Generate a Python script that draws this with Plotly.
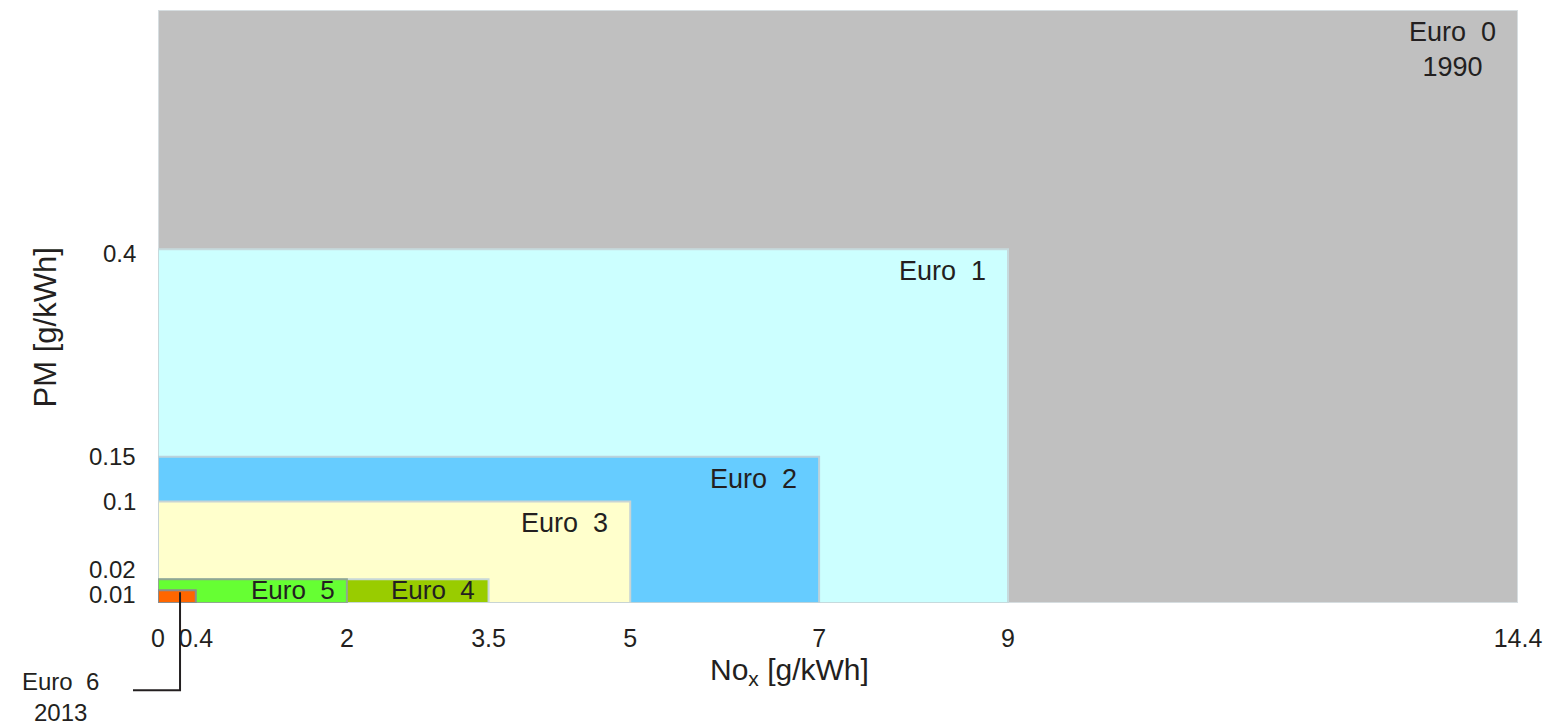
import plotly.graph_objects as go

# ---- data ----
stages = ["Euro  0", "Euro  1", "Euro  2", "Euro  3", "Euro  4", "Euro  5", "Euro  6"]
nox_limits = [14.4, 9.0, 7.0, 5.0, 3.5, 2.0, 0.4]      # g/kWh
pm_limits = [0.71, 0.4, 0.15, 0.1, 0.02, 0.02, 0.01]   # g/kWh
years = {"Euro  0": "1990", "Euro  6": "2013"}
fill_colors = ["#c0c0c0", "#ccffff", "#66ccff", "#ffffcc", "#99cc00", "#66ff33", "#ff6600"]
line_colors = ["#d6dde0", "#c6dadd", "#bcd3dc", "#c8d4d4", "#c8d8d8", "#8fa890", "#8c8c8c"]

x_ticks = [0, 0.4, 2, 3.5, 5, 7, 9, 14.4]
y_ticks = [0.01, 0.02, 0.1, 0.15, 0.4]

# schematic (compressed) PM scale: power transform
P = 0.9
def ty(v):
    return v ** P

FONT = "Arial, Liberation Sans, sans-serif"
TXT = "#231f20"

fig = go.Figure()

# invisible trace to establish axes
fig.add_trace(go.Scatter(x=[0, nox_limits[0]], y=[0, ty(pm_limits[0])], mode="markers",
                         marker=dict(opacity=0), hoverinfo="skip", showlegend=False))

for i, name in enumerate(stages):
    fig.add_shape(type="rect", xref="x", yref="y",
                  x0=0, x1=nox_limits[i], y0=0, y1=ty(pm_limits[i]),
                  fillcolor=fill_colors[i], line=dict(color=line_colors[i], width=2),
                  layer="below")

# stage labels inside boxes (top-right)
for i in range(4):
    txt = stages[i] + ("<br>" + years[stages[i]] if stages[i] in years else "")
    fig.add_annotation(x=nox_limits[i], y=ty(pm_limits[i]), xref="x", yref="y",
                       text=txt, showarrow=False, xanchor="right", yanchor="top",
                       xshift=-20, yshift=-5, align="center",
                       font=dict(family=FONT, size=27, color=TXT))

# Euro 4 and Euro 5 labels centred in their thin band
for i, xs in [(4, -12), (5, -10)]:
    fig.add_annotation(x=nox_limits[i], y=ty(pm_limits[i]) / 2, xref="x", yref="y",
                       text=stages[i], showarrow=False, xanchor="right", yanchor="middle",
                       xshift=xs, yshift=1,
                       font=dict(family=FONT, size=26, color=TXT))

# y tick labels (spread slightly where the smallest limits crowd together)
y_label_shift = {0.01: -4, 0.02: 10, 0.1: 0, 0.15: 0, 0.4: -4}
for v in y_ticks:
    fig.add_annotation(x=0, y=ty(v), xref="paper", yref="y", text="%g" % v,
                       showarrow=False, xanchor="right", yanchor="middle",
                       xshift=-20, yshift=y_label_shift[v],
                       font=dict(family=FONT, size=24, color=TXT))

# Euro 6 callout
fig.add_shape(type="path", xref="paper", yref="paper",
              path="M 0.0162,0.018 L 0.0162,-0.147 L -0.0184,-0.147",
              line=dict(color="#231f20", width=2))
fig.add_annotation(x=-0.072, y=-0.158, xref="paper", yref="paper",
                   text=stages[6] + "<br>" + years[stages[6]], showarrow=False,
                   xanchor="center", yanchor="middle", align="center",
                   font=dict(family=FONT, size=24, color=TXT))

# axis titles
fig.add_annotation(x=0.464, y=-0.116, xref="paper", yref="paper",
                   text="No<sub>x</sub> [g/kWh]", showarrow=False,
                   xanchor="center", yanchor="middle",
                   font=dict(family=FONT, size=30, color=TXT))
fig.add_annotation(x=-0.083, y=0.465, xref="paper", yref="paper",
                   text="PM [g/kWh]", showarrow=False, textangle=-90,
                   xanchor="center", yanchor="middle",
                   font=dict(family=FONT, size=31, color=TXT))

fig.update_xaxes(range=[0, nox_limits[0]], tickvals=x_ticks,
                 ticktext=[("%g" % v) for v in x_ticks],
                 showgrid=False, zeroline=False, showline=False, ticks="",
                 ticklabelstandoff=18,
                 tickfont=dict(family=FONT, size=25, color=TXT), fixedrange=True)
fig.update_yaxes(range=[0, ty(pm_limits[0])], showticklabels=False,
                 showgrid=False, zeroline=False, showline=False, ticks="",
                 fixedrange=True)

fig.update_layout(width=1552, height=726,
                  margin=dict(l=158, r=32, t=10, b=123),
                  plot_bgcolor="white", paper_bgcolor="white",
                  showlegend=False)

fig.write_html("out.html", config={"displayModeBar": False},
               post_script="document.body.style.margin='0';document.body.style.overflow='hidden';")
